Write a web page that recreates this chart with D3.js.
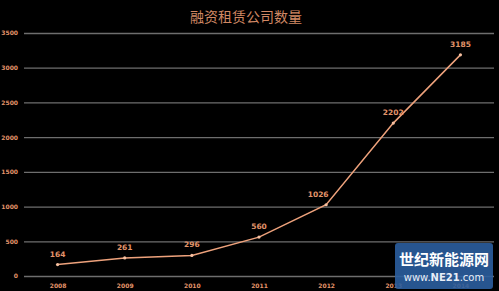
<!DOCTYPE html>
<html><head><meta charset="utf-8">
<script src="https://cdn.jsdelivr.net/npm/d3@7"></script>
<style>html,body{margin:0;padding:0;background:#000;}svg{display:block;}</style>
</head><body>
<svg id="c" width="499" height="291"></svg>
<script>
const years = ["2008","2009","2010","2011","2012","2013","2014"];
const counts = [164, 261, 296, 560, 1026, 2202, 3185];
const yTicks = [0, 500, 1000, 1500, 2000, 2500, 3000, 3500];
const title = "融资租赁公司数量";

(function(){
const svg = d3.select("#c");
const W = 499, H = 291;
svg.append("rect").attr("width", W).attr("height", H).attr("fill", "#000");
const mLeft = 24, mRight = 494, mTop = 33, mBottom = 276;
const x = d3.scalePoint().domain(years).range([mLeft, mRight]).padding(0.5);
const y = d3.scaleLinear().domain([0, 3500]).range([mBottom, mTop]);
const orange = "#e3946a";

svg.append("text").attr("x", 246).attr("y", 22).attr("text-anchor", "middle")
  .attr("font-family", "Noto Sans CJK SC").attr("font-size", 14).attr("fill", "#d08864")
  .text(title);

const yAxis = d3.axisLeft(y).tickValues(yTicks).tickSize(-(mRight - mLeft)).tickPadding(6).tickFormat(d3.format("d"));
const gy = svg.append("g").attr("transform", `translate(${mLeft},0)`).call(yAxis);
gy.select(".domain").remove();
gy.selectAll("line").attr("stroke", "#6e6e6e").attr("stroke-width", 1.3);
gy.selectAll("text").attr("fill", orange).attr("font-family", "DejaVu Sans").attr("font-weight", "bold").attr("font-size", 6);

const xAxis = d3.axisBottom(x).tickSize(0).tickPadding(8);
const gx = svg.append("g").attr("transform", `translate(0,${mBottom})`).call(xAxis);
gx.select(".domain").remove();
gx.selectAll("text").attr("fill", orange).attr("font-family", "DejaVu Sans").attr("font-weight", "bold").attr("font-size", 6);

const data = years.map((yr, i) => ({yr, v: counts[i], next: counts[i + 1]}));
svg.append("path").datum(data)
  .attr("d", d3.line().x(d => x(d.yr)).y(d => y(d.v)))
  .attr("fill", "none").attr("stroke", "#eea27c").attr("stroke-width", 1.5);
svg.selectAll(".pt").data(data).join("circle")
  .attr("cx", d => x(d.yr)).attr("cy", d => y(d.v)).attr("r", 1.6).attr("fill", "#f6c0a0");
svg.selectAll(".lbl").data(data).join("text")
  .attr("x", d => x(d.yr) - ((d.next !== undefined && d.next - d.v > 1000) ? 8 : 0))
  .attr("y", d => y(d.v) - 8).attr("text-anchor", "middle")
  .attr("fill", orange).attr("font-family", "DejaVu Sans").attr("font-weight", "bold").attr("font-size", 7.5)
  .text(d => d.v);

// watermark
const wm = svg.append("g");
wm.append("rect").attr("x", 395).attr("y", 243).attr("width", 98).attr("height", 46).attr("rx", 3)
  .attr("fill", "#2b5e9e").attr("opacity", 0.9);
wm.append("text").attr("x", 444).attr("y", 265).attr("text-anchor", "middle")
  .attr("font-family", "Noto Sans CJK SC").attr("font-weight", "bold").attr("font-size", 15).attr("fill", "#fff").text("世纪新能源网");
wm.append("text").attr("x", 444).attr("y", 281).attr("text-anchor", "middle")
  .attr("font-family", "DejaVu Sans").attr("font-size", 10).attr("fill", "#e8eef8")
  .html('www.<tspan font-weight="bold">NE21</tspan>.com');
})();
</script>
</body></html>
